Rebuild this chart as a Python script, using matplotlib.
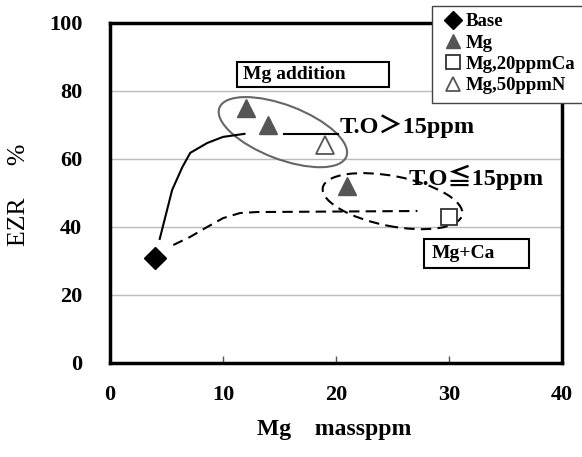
import matplotlib
matplotlib.use('Agg')
import matplotlib.pyplot as plt
from matplotlib.patches import Ellipse, Rectangle
from matplotlib.transforms import ScaledTranslation

plt.rcParams['font.family'] = ['Liberation Serif', 'Noto Sans CJK JP', 'DejaVu Sans']

# measured points
base_x = [4]
base_y = [31]
mg_x = [12, 14, 21]
mg_y = [75, 70, 52]
ca_x = [30]
ca_y = [43]
n_x = [19]
n_y = [64]

# hand-drawn guide curves
solid_x = [4.4, 5.5, 6.4, 7.1, 8.6, 10.0, 11.9]
solid_y = [36.5, 50.9, 57.6, 61.8, 64.7, 66.5, 67.4]
dash_x = [5.6, 7.1, 8.6, 10.0, 11.5, 13.0, 27.2]
dash_y = [34.7, 37.1, 40.0, 42.6, 44.1, 44.4, 44.7]

x_ticks = [0, 10, 20, 30, 40]
y_ticks = [0, 20, 40, 60, 80, 100]

fig = plt.figure(figsize=(5.82, 4.57), dpi=100)
ax = fig.add_axes([110 / 582, 1 - 363 / 457, 452 / 582, 340 / 457])
ax.set_xlim(0, 40)
ax.set_ylim(0, 100)
ax.set_xticks(x_ticks)
ax.set_yticks(y_ticks)
ax.set_xticklabels([str(v) for v in x_ticks], fontsize=16, fontweight='bold')
ax.set_yticklabels([str(v) for v in y_ticks], fontsize=16, fontweight='bold')
ax.tick_params(axis='x', direction='in', length=5, width=1, pad=16, color='#555')
ax.tick_params(axis='y', length=0, pad=20)
for s in ax.spines.values():
    s.set_linewidth(2.5)
for v in [20, 40, 60, 80]:
    ax.axhline(v, color='#bbbbbb', lw=1, zorder=0)

# guide lines
ax.plot(solid_x, solid_y, color='black', lw=1.5)
ax.plot(dash_x, dash_y, color='black', lw=1.5, ls=(0, (5, 3)))
ax.plot([15.4, 20.2], [67.4, 67.4], color='black', lw=1.5)


def px_ellipse(cx, cy, a, b, ang, **kw):
    tr = fig.dpi_scale_trans + ScaledTranslation(cx, cy, ax.transData)
    e = Ellipse((0, 0), 2 * a / 100, 2 * b / 100, angle=ang, transform=tr,
                fill=False, **kw)
    ax.add_patch(e)


px_ellipse(15.3, 67.9, 68, 27, -21, edgecolor='#666666', lw=1.5)
px_ellipse(25.0, 47.6, 71, 25, -11, edgecolor='black', lw=1.5, ls=(0, (5, 3)))

# markers
ax.plot(base_x, base_y, 'D', color='black', ms=11, label='Base', zorder=5)
ax.plot(mg_x, mg_y, '^', color='#555555', ms=13, label='Mg', zorder=5)
ax.plot(ca_x, ca_y, 's', mfc='white', mec='#333333', mew=1.3, ms=12,
        label='Mg,20ppmCa', zorder=5)
ax.plot(n_x, n_y, '^', mfc='white', mec='#555555', mew=1.3, ms=13,
        label='Mg,50ppmN', zorder=5)

# boxes
ax.add_patch(Rectangle((11.2, 81.1), 13.5, 7.4, fill=False, ec='black', lw=1.5))
ax.text(11.8, 84.8, 'Mg addition', fontsize=14, fontweight='bold', va='center')
ax.add_patch(Rectangle((27.8, 28.0), 9.3, 8.6, fill=False, ec='black', lw=1.5))
ax.text(28.5, 32.3, 'Mg+Ca', fontsize=14, fontweight='bold', va='center')

ax.text(20.3, 69.8, 'T.O＞15ppm', fontsize=17.5, fontweight='bold', va='center')
ax.text(26.4, 54.5, 'T.O≦15ppm', fontsize=17.5, fontweight='bold', va='center')

# legend frame runs off the right edge of the figure
ax.add_patch(Rectangle((432 / 582, 1 - 103 / 457), 160 / 582, 97 / 457,
                       transform=fig.transFigure, fc='white', ec='#444444',
                       lw=1.0, zorder=8, clip_on=False))
leg = ax.legend(loc='upper left', bbox_to_anchor=(444 / 582, 1 - 13 / 457),
                bbox_transform=fig.transFigure, borderaxespad=0, borderpad=0,
                frameon=False, handlelength=1.0, handletextpad=0.15,
                labelspacing=0.23, prop={'size': 13.5, 'weight': 'bold'},
                markerscale=0.8)
leg.set_zorder(10)

fig.text(19 / 582, 1 - 195 / 457, 'EZR　 %', rotation=90, fontsize=18.5,
         ha='center', va='center')
fig.text(334 / 582, 1 - 430 / 457, 'Mg　massppm', fontsize=17,
         fontweight='bold', ha='center', va='center')

fig.savefig('out.png', dpi=100)
